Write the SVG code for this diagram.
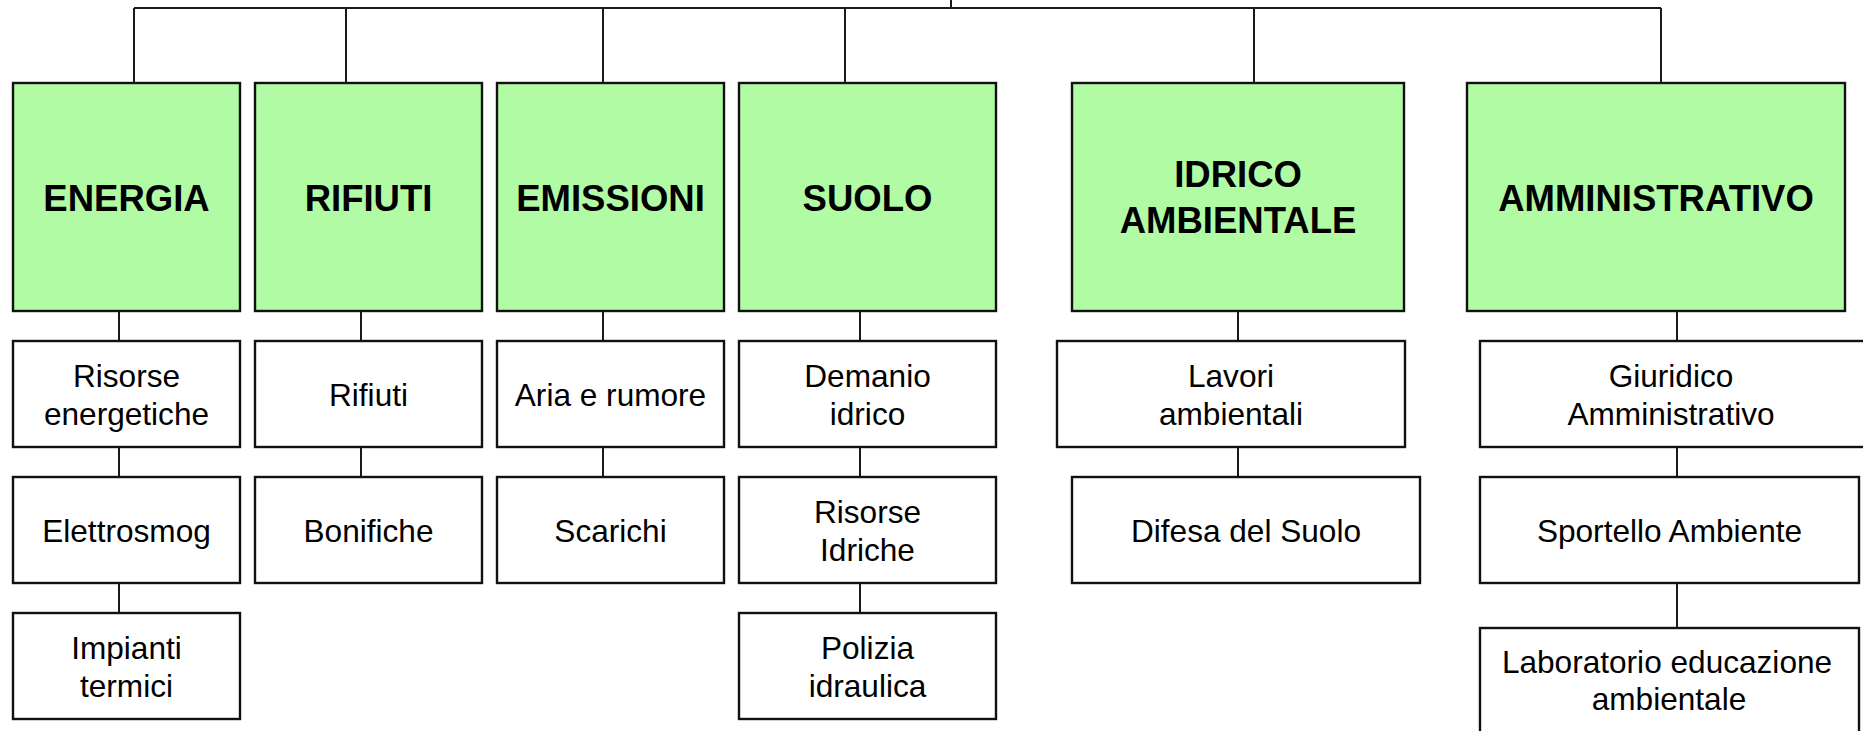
<svg xmlns="http://www.w3.org/2000/svg" width="1863" height="731" viewBox="0 0 1863 731">
<style>
.g{fill:#b2fba5;stroke:#111;stroke-width:2.4}
.w{fill:#fff;stroke:#111;stroke-width:2.4}
.t{font-family:"Liberation Sans",Arial,sans-serif;font-weight:bold;font-size:36.5px;fill:#000;text-anchor:middle}
.s{font-family:"Liberation Sans",Arial,sans-serif;font-size:31.6px;fill:#000;text-anchor:middle}
.c{stroke:#1a1a1a;stroke-width:2;fill:none}
</style>
<rect width="1863" height="731" fill="#fff"/>
<g id="connectors" class="c">
<path d="M951 0V8M134 8H1661M134 8V83M346 8V83M603 8V83M845 8V83M1254 8V83M1661 8V83"/>
<path d="M119 311V341M119 447V477M119 583V613"/>
<path d="M361 311V341M361 447V477"/>
<path d="M603 311V341M603 447V477"/>
<path d="M860 311V341M860 447V477M860 583V613"/>
<path d="M1238 311V341M1238 447V477"/>
<path d="M1677 311V341M1677 447V477M1677 583V628"/>
</g>
<g id="energia"><rect class="g" x="13" y="83" width="227" height="228"/><text class="t" x="126.5" y="211">ENERGIA</text></g>
<g id="rifiuti"><rect class="g" x="255" y="83" width="227" height="228"/><text class="t" x="368.5" y="211">RIFIUTI</text></g>
<g id="emissioni"><rect class="g" x="497" y="83" width="227" height="228"/><text class="t" x="610.5" y="211">EMISSIONI</text></g>
<g id="suolo"><rect class="g" x="739" y="83" width="257" height="228"/><text class="t" x="867.5" y="211">SUOLO</text></g>
<g id="idrico"><rect class="g" x="1072" y="83" width="332" height="228"/><text class="t" x="1238" y="187">IDRICO</text><text class="t" x="1238" y="233">AMBIENTALE</text></g>
<g id="amministrativo"><rect class="g" x="1467" y="83" width="378" height="228"/><text class="t" x="1656" y="211">AMMINISTRATIVO</text></g>

<g id="risorse-energetiche"><rect class="w" x="13" y="341" width="227" height="106"/><text class="s" x="126.5" y="387">Risorse</text><text class="s" x="126.5" y="425">energetiche</text></g>
<g id="elettrosmog"><rect class="w" x="13" y="477" width="227" height="106"/><text class="s" x="126.5" y="542">Elettrosmog</text></g>
<g id="impianti-termici"><rect class="w" x="13" y="613" width="227" height="106"/><text class="s" x="126.5" y="659">Impianti</text><text class="s" x="126.5" y="697">termici</text></g>

<g id="rifiuti-sub"><rect class="w" x="255" y="341" width="227" height="106"/><text class="s" x="368.5" y="406">Rifiuti</text></g>
<g id="bonifiche"><rect class="w" x="255" y="477" width="227" height="106"/><text class="s" x="368.5" y="542">Bonifiche</text></g>

<g id="aria-rumore"><rect class="w" x="497" y="341" width="227" height="106"/><text class="s" x="610.5" y="406">Aria e rumore</text></g>
<g id="scarichi"><rect class="w" x="497" y="477" width="227" height="106"/><text class="s" x="610.5" y="542">Scarichi</text></g>

<g id="demanio-idrico"><rect class="w" x="739" y="341" width="257" height="106"/><text class="s" x="867.5" y="387">Demanio</text><text class="s" x="867.5" y="425">idrico</text></g>
<g id="risorse-idriche"><rect class="w" x="739" y="477" width="257" height="106"/><text class="s" x="867.5" y="523">Risorse</text><text class="s" x="867.5" y="561">Idriche</text></g>
<g id="polizia-idraulica"><rect class="w" x="739" y="613" width="257" height="106"/><text class="s" x="867.5" y="659">Polizia</text><text class="s" x="867.5" y="697">idraulica</text></g>

<g id="lavori-ambientali"><rect class="w" x="1057" y="341" width="348" height="106"/><text class="s" x="1231" y="387">Lavori</text><text class="s" x="1231" y="425">ambientali</text></g>
<g id="difesa-suolo"><rect class="w" x="1072" y="477" width="348" height="106"/><text class="s" x="1246" y="542">Difesa del Suolo</text></g>

<g id="giuridico-amministrativo"><rect class="w" x="1480" y="341" width="390" height="106"/><text class="s" x="1671" y="387">Giuridico</text><text class="s" x="1671" y="425">Amministrativo</text></g>
<g id="sportello-ambiente"><rect class="w" x="1480" y="477" width="379" height="106"/><text class="s" x="1669.5" y="542">Sportello Ambiente</text></g>
<g id="laboratorio"><rect class="w" x="1480" y="628" width="379" height="110"/><text class="s" x="1667" y="673">Laboratorio educazione</text><text class="s" x="1669" y="710">ambientale</text></g>
</svg>
